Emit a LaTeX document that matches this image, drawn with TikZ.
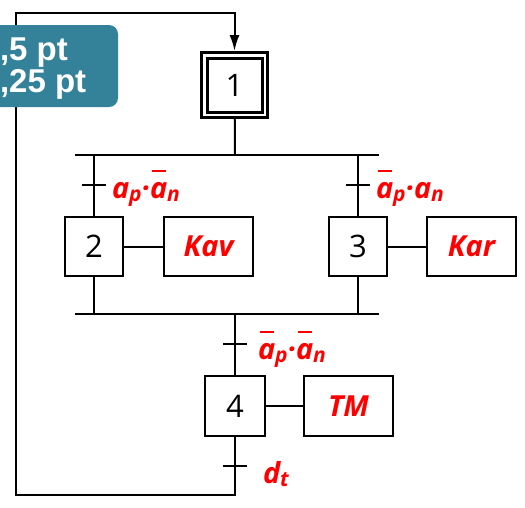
\documentclass[tikz,border=0pt]{standalone}
\usepackage{fontspec}
\setmainfont{Open Sans}
\newfontfamily\boxfont{Liberation Sans}
\usetikzlibrary{arrows.meta}
\definecolor{tealBox}{HTML}{33829A}
\definecolor{redText}{HTML}{FF0000}

% negated variable and index
\newcommand\nonv[1]{\leavevmode\rlap{\kern0.06em\rule[0.88em]{0.5em}{0.1em}}#1}
\newcommand\ind[1]{\raisebox{-3pt}{\fontsize{21}{21}\selectfont #1}}

\tikzset{
  etape/.style={draw, line width=2pt, minimum width=58pt, minimum height=59pt,
    inner sep=0pt, font=\fontsize{31}{31}\selectfont},
  action/.style={draw, line width=2pt, minimum width=89pt, minimum height=59pt,
    inner sep=0pt, text=redText, font=\fontsize{29}{29}\selectfont\bfseries\itshape},
  cond/.style={anchor=base west, inner sep=0pt, text=redText,
    font=\fontsize{29}{29}\selectfont\bfseries\itshape},
  lwtext/.style={anchor=base west, inner sep=0pt, text=white,
    font=\boxfont\fontsize{33}{33}\selectfont\bfseries},
}

\begin{document}
\begin{tikzpicture}[x=1pt, y=-1pt, line width=2pt, >={Latex[length=16pt,width=10pt]}]
    \useasboundingbox (0,0) rectangle (525,507);

    % steps and actions
    \node[etape, double, line width=3pt, double distance=2.5pt, outer sep=4.25pt,
      minimum width=60.5pt, minimum height=59.5pt] (e1) at (234.5,85) {1};
    \node[etape] (e2) at (94,246.5) {2};
    \node[action] (a2) at (208.5,246.5) {Kav};
    \node[etape] (e3) at (358,246.5) {3};
    \node[action] (a3) at (471.5,246.5) {Kar};
    \node[etape, minimum width=60pt, minimum height=60pt] (e4) at (235,406) {4};
    \node[action, minimum height=60pt] (a4) at (348.5,406) {TM};

    % AND divergence / convergence
    \coordinate (div) at (235,155);
    \coordinate (divL) at (75,155);
    \coordinate (divR) at (379,155);
    \coordinate (conv) at (235,314);
    \coordinate (convL) at (75,314);
    \coordinate (convR) at (379,314);
    \draw (e1) -- (div);
    \draw (divL) -- (divR);
    \draw (e2.north |- div) -- (e2);
    \draw (e3.north |- div) -- (e3);
    \draw (e2) -- (e2.south |- conv);
    \draw (e3) -- (e3.south |- conv);
    \draw (convL) -- (convR);
    \draw (conv) -- (e4);

    % step to action
    \draw (e2) -- (a2);
    \draw (e3) -- (a3);
    \draw (e4) -- (a4);

    % return loop
    \coordinate (lb) at (16,495);
    \coordinate (lt) at (16,13);
    \draw[->] (e4.south) |- (lb) -- (lt) -| (e1.north);

    % transitions
    \coordinate (t1) at (94,185);
    \coordinate (t2) at (358,185);
    \coordinate (t3) at (235,344);
    \coordinate (t4) at (235,466);
    \foreach \t in {t1,t2,t3,t4}
      \draw ([xshift=-12pt]\t) -- ([xshift=12pt]\t);

    \node[cond] (c1) at ([shift={(17pt,-13pt)}]t1) {a\ind{p}·\nonv{a}\ind{n}};
    \node[cond] (c2) at ([shift={(17pt,-13pt)}]t2) {\nonv{a}\ind{p}·a\ind{n}};
    \node[cond] (c3) at ([shift={(22pt,-15pt)}]t3) {\nonv{a}\ind{p}·\nonv{a}\ind{n}};
    \node[cond] (c4) at ([shift={(27pt,-17pt)}]t4) {d\ind{t}};

    % line width box
    \fill[tealBox, rounded corners=9pt] (-20,25) rectangle (118,107);
    \node[lwtext] (lw1) at (-1,60) {,5 pt};
    \node[lwtext] (lw2) at (-1,92) {,25 pt};

\end{tikzpicture}
\end{document}
